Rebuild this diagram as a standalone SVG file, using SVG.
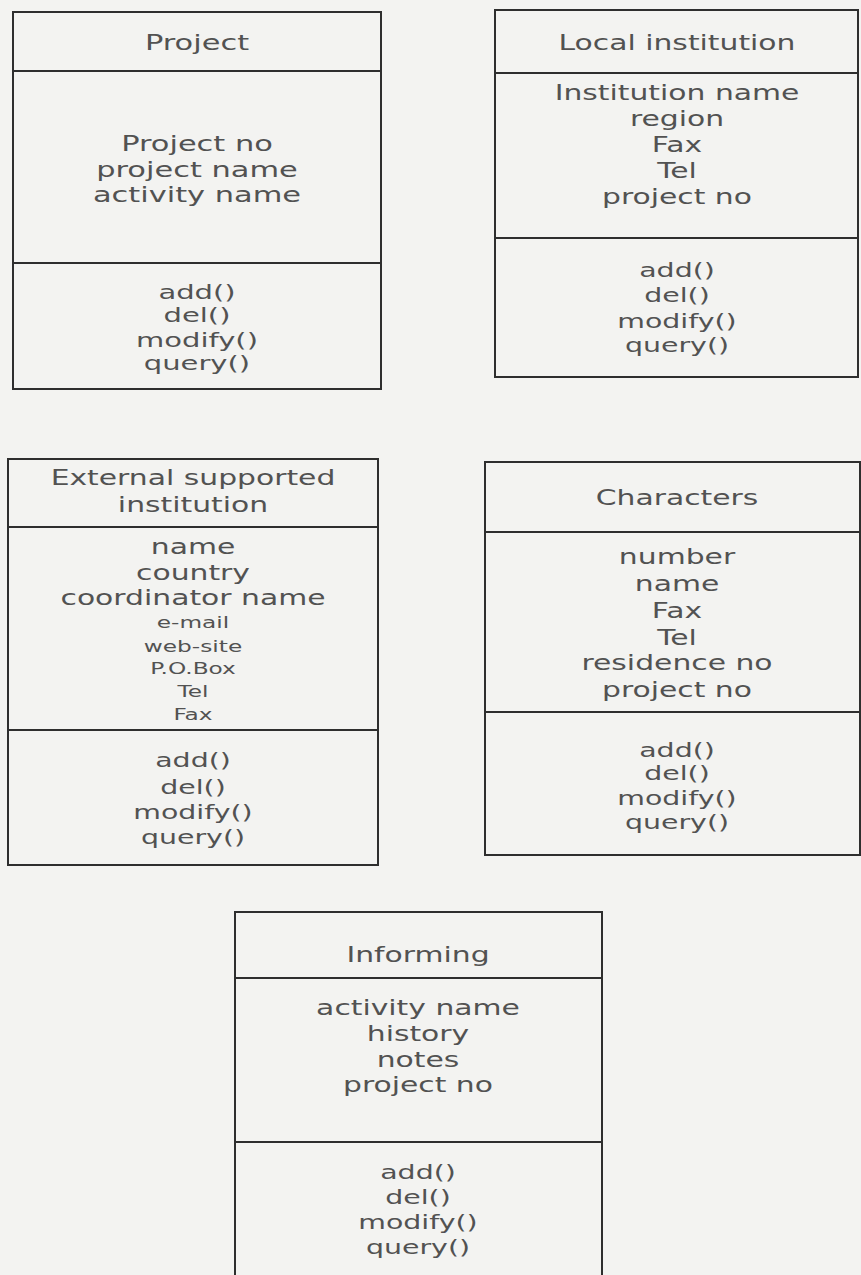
<svg xmlns="http://www.w3.org/2000/svg" width="861" height="1275" viewBox="0 0 861 1275">
  <style>
    .frame { fill: none; stroke: #2e2e2e; stroke-width: 2; }
    .rule { stroke: #2e2e2e; stroke-width: 2; }
    text { font-family: "DejaVu Sans", "Liberation Sans", sans-serif; fill: #525252; text-anchor: middle; }
    .title { font-size: 21px; }
    .attr { font-size: 21px; }
    .small { font-size: 15.5px; }
    .op { font-size: 20px; }
  </style>
  <rect width="861" height="1275" fill="#f3f3f1"/>

  <!-- Project class -->
  <g id="project">
    <rect class="frame" x="13" y="12" width="368" height="377"/>
    <line class="rule" x1="13" y1="71" x2="381" y2="71"/>
    <line class="rule" x1="13" y1="263" x2="381" y2="263"/>
    <g transform="translate(197 0) scale(1.45 1)">
      <text class="title" y="50">Project</text>
      <text class="attr" y="151">Project no</text>
      <text class="attr" y="177">project name</text>
      <text class="attr" y="202">activity name</text>
      <text class="op" y="299">add()</text>
      <text class="op" y="322">del()</text>
      <text class="op" y="347">modify()</text>
      <text class="op" y="370">query()</text>
    </g>
  </g>

  <!-- Local institution class -->
  <g id="local-institution">
    <rect class="frame" x="495" y="10" width="363" height="367"/>
    <line class="rule" x1="495" y1="73" x2="858" y2="73"/>
    <line class="rule" x1="495" y1="238" x2="858" y2="238"/>
    <g transform="translate(677 0) scale(1.42 1)">
      <text class="title" y="50">Local institution</text>
      <text class="attr" y="100">Institution name</text>
      <text class="attr" y="126">region</text>
      <text class="attr" y="152">Fax</text>
      <text class="attr" y="178">Tel</text>
      <text class="attr" y="204">project no</text>
      <text class="op" y="277">add()</text>
      <text class="op" y="302">del()</text>
      <text class="op" y="328">modify()</text>
      <text class="op" y="352">query()</text>
    </g>
  </g>

  <!-- External supported institution class -->
  <g id="external-supported-institution">
    <rect class="frame" x="8" y="459" width="370" height="406"/>
    <line class="rule" x1="8" y1="527" x2="378" y2="527"/>
    <line class="rule" x1="8" y1="730" x2="378" y2="730"/>
    <g transform="translate(193 0) scale(1.42 1)">
      <text class="title" y="485">External supported</text>
      <text class="title" y="512">institution</text>
      <text class="attr" y="554">name</text>
      <text class="attr" y="580">country</text>
      <text class="attr" y="605">coordinator name</text>
    </g>
    <g transform="translate(193 0) scale(1.5 1)">
      <text class="small" y="628">e-mail</text>
      <text class="small" y="652">web-site</text>
      <text class="small" y="674">P.O.Box</text>
      <text class="small" y="697">Tel</text>
      <text class="small" y="720">Fax</text>
    </g>
    <g transform="translate(193 0) scale(1.42 1)">
      <text class="op" y="767">add()</text>
      <text class="op" y="794">del()</text>
      <text class="op" y="819">modify()</text>
      <text class="op" y="844">query()</text>
    </g>
  </g>

  <!-- Characters class -->
  <g id="characters">
    <rect class="frame" x="485" y="462" width="375" height="393"/>
    <line class="rule" x1="485" y1="532" x2="860" y2="532"/>
    <line class="rule" x1="485" y1="712" x2="860" y2="712"/>
    <g transform="translate(677 0) scale(1.42 1)">
      <text class="title" y="505">Characters</text>
      <text class="attr" y="564">number</text>
      <text class="attr" y="591">name</text>
      <text class="attr" y="618">Fax</text>
      <text class="attr" y="645">Tel</text>
      <text class="attr" y="670">residence no</text>
      <text class="attr" y="697">project no</text>
      <text class="op" y="757">add()</text>
      <text class="op" y="780">del()</text>
      <text class="op" y="805">modify()</text>
      <text class="op" y="829">query()</text>
    </g>
  </g>

  <!-- Informing class (runs past the bottom edge) -->
  <g id="informing">
    <polyline class="frame" points="235,1276 235,912 602,912 602,1276"/>
    <line class="rule" x1="235" y1="978" x2="602" y2="978"/>
    <line class="rule" x1="235" y1="1142" x2="602" y2="1142"/>
    <g transform="translate(418 0) scale(1.42 1)">
      <text class="title" y="962">Informing</text>
      <text class="attr" y="1015">activity name</text>
      <text class="attr" y="1041">history</text>
      <text class="attr" y="1067">notes</text>
      <text class="attr" y="1092">project no</text>
      <text class="op" y="1179">add()</text>
      <text class="op" y="1204">del()</text>
      <text class="op" y="1229">modify()</text>
      <text class="op" y="1254">query()</text>
    </g>
  </g>

  <g id="connectors"/>
</svg>
